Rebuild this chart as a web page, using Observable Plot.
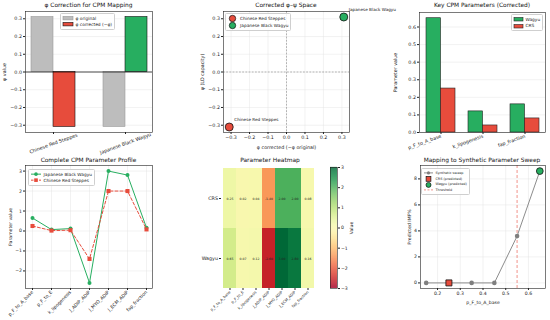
<!DOCTYPE html>
<html><head><meta charset="utf-8">
<script src="https://cdn.jsdelivr.net/npm/d3@7"></script>
<script src="https://cdn.jsdelivr.net/npm/@observablehq/plot@0.6"></script>
<style>
body{margin:0;background:#fff;font-family:"DejaVu Sans",sans-serif;}
#root{position:relative;width:550px;height:320px;overflow:hidden;background:#fff;}
#root svg{position:absolute;}
.title{position:absolute;font-size:5.9px;line-height:1;color:#111;white-space:nowrap;transform:translateX(-50%);}
.leg{position:absolute;border:0.5px solid #cfcfcf;border-radius:1.5px;background:rgba(255,255,255,0.85);padding:1px 2px;color:#222;white-space:nowrap;}
.leg svg{position:static !important;}
</style></head>
<body><div id="root"></div>
<script>
// ---------- data ----------
const breeds = ["Chinese Red Steppes", "Japanese Black Wagyu"];
const phiOriginal = [0.31, -0.31];
const phiCorrected = [-0.31, 0.31];
const psiCapacity = [-0.31, 0.31];
const breedColors = ["#e74c3c", "#27ae60"];

const keyParams = ["p_F_to_A_base", "k_lipogenesis", "fap_fraction"];
const keyWagyu = [0.65, 0.12, 0.16];
const keyCRS = [0.25, 0.04, 0.08];

const params = ["p_F_to_A_base", "p_F_to_E", "k_lipogenesis", "J_ADIP_ADIP", "J_MYO_ADIP", "J_ECM_ADIP", "fap_fraction"];
const wagyuValues = [0.65, 0.07, 0.12, -2.60, 3.00, 2.80, 0.16];
const crsValues = [0.25, 0.02, 0.04, -1.40, 2.00, 2.00, 0.08];
const heatRowsLabels = ["CRS", "Wagyu"];

const sweepX = [0.15, 0.25, 0.35, 0.45, 0.55, 0.65];
const sweepY = [0, 0, 0, 0, 3.6, 8.6];
const predLabels = ["CRS", "Wagyu"];
const predX = [0.25, 0.65];
const predY = [0.0, 8.6];
const threshold = [0.55];

const RED = "#e74c3c", GREEN = "#27ae60", GRAY = "#bdbdbd";

// ---------- helpers ----------
const root = document.getElementById("root");
const FONT = "DejaVu Sans";
const st = (fs) => ({fontFamily: FONT, fontSize: fs + "px", overflow: "visible", background: "transparent", color: "#222"});
const grid = {stroke: "#e3e3e3", strokeOpacity: 1, strokeWidth: 0.45};
const frame = () => Plot.frame({stroke: "#222", strokeWidth: 0.6});
function place(node, left, top) { node.style.left = left + "px"; node.style.top = top + "px"; root.appendChild(node); }
function title(text, cx, top) { const d = document.createElement("div"); d.className = "title"; d.textContent = text; d.style.left = cx + "px"; d.style.top = top + "px"; root.appendChild(d); }
function swatch(it, w, h) {
  const cy = h / 2;
  let s = `<svg width="${w}" height="${h}" style="display:block;overflow:visible">`;
  if (it.type === "rect") s += `<rect x="0" y="${cy - it.h / 2}" width="${w}" height="${it.h}" fill="${it.fill}" stroke="${it.stroke}" stroke-width="0.6"/>`;
  if (it.line) s += `<line x1="0" x2="${w}" y1="${cy}" y2="${cy}" stroke="${it.line}" stroke-width="${it.lw || 0.8}" ${it.dash ? `stroke-dasharray="${it.dash}"` : ""} stroke-opacity="${it.lo || 1}"/>`;
  if (it.marker === "circle") s += `<circle cx="${w / 2}" cy="${cy}" r="${it.r}" fill="${it.fill}" stroke="${it.stroke || "none"}" stroke-width="0.7"/>`;
  if (it.marker === "square") s += `<rect x="${w / 2 - it.r}" y="${cy - it.r}" width="${2 * it.r}" height="${2 * it.r}" fill="${it.fill}" stroke="${it.stroke || "none"}" stroke-width="0.7"/>`;
  return s + "</svg>";
}
function legend(left, top, items, o) {
  const d = document.createElement("div"); d.className = "leg";
  d.style.left = left + "px"; d.style.top = top + "px"; d.style.fontSize = o.fs + "px";
  for (const it of items) {
    const row = document.createElement("div");
    row.style.cssText = `display:flex;align-items:center;height:${o.rowH}px;`;
    row.innerHTML = swatch(it, o.sw, o.rowH) + `<span style="margin-left:${o.gap}px">${it.label}</span>`;
    d.appendChild(row);
  }
  root.appendChild(d);
}
const ax = {tickSize: 2, tickPadding: 1.5, labelArrow: false};

// ---------- Panel 1: phi correction ----------
{
  const W = 183, ml = 25, mr = 31, pi = 0.389, po = 0.076;
  const bw = (W - ml - mr) / (breeds.length - pi + 2 * po) * (1 - pi);
  const rows = breeds.map((b, i) => ({breed: b, original: phiOriginal[i], corrected: phiCorrected[i], color: breedColors[i]}));
  const yt = [-0.3, -0.2, -0.1, 0, 0.1, 0.2, 0.3];
  const svg = Plot.plot({
    width: W, height: 160, marginLeft: ml, marginRight: mr, marginTop: 11, marginBottom: 28,
    style: st(4.8),
    x: {domain: breeds, paddingInner: pi, paddingOuter: po},
    y: {domain: [-0.341, 0.341]},
    color: {type: "identity"},
    marks: [
      Plot.gridY(yt, grid),
      Plot.barY(rows, {x: "breed", y: "original", fill: GRAY, stroke: "#9a9a9a", strokeWidth: 0.6, insetRight: bw / 2}),
      Plot.barY(rows, {x: "breed", y: "corrected", fill: "color", stroke: "#111", strokeWidth: 0.6, insetLeft: bw / 2}),
      Plot.ruleY([0], {stroke: "#000", strokeWidth: 0.7}),
      Plot.axisY({...ax, ticks: yt, tickFormat: ".1f", label: "φ value", labelAnchor: "center", labelOffset: 23}),
      Plot.axisX({...ax, tickRotate: -20, textAnchor: "middle", tickPadding: 9, label: null}),
      frame()
    ]
  });
  place(svg, 0, 0);
  title("φ Correction for CPM Mapping", 88.5, 2.5);
  legend(60, 13, [
    {type: "rect", fill: GRAY, stroke: "#9a9a9a", h: 3.5, label: "φ original"},
    {type: "rect", fill: RED, stroke: "#111", h: 3.5, label: "φ corrected (−φ)"}
  ], {fs: 4.4, rowH: 6.3, sw: 10, gap: 2.5});
}

// ---------- Panel 2: phi-psi space ----------
{
  const rows = breeds.map((b, i) => ({breed: b, phi: phiCorrected[i], psi: psiCapacity[i], color: breedColors[i]}));
  const t = [-0.3, -0.2, -0.1, 0, 0.1, 0.2, 0.3];
  const svg = Plot.plot({
    width: 185, height: 160, marginLeft: 43, marginRight: 16, marginTop: 11, marginBottom: 28,
    style: st(4.8),
    x: {domain: [-0.341, 0.341]},
    y: {domain: [-0.341, 0.341]},
    color: {type: "identity"},
    marks: [
      Plot.gridX(t, grid), Plot.gridY(t, grid),
      Plot.ruleX([0], {stroke: "#888", strokeWidth: 0.6, strokeDasharray: "1.8,1.4"}),
      Plot.ruleY([0], {stroke: "#888", strokeWidth: 0.6, strokeDasharray: "1.8,1.4"}),
      Plot.dot(rows, {x: "phi", y: "psi", r: 4, fill: "color", stroke: "#111", strokeWidth: 0.8}),
      Plot.text(rows, {x: "phi", y: "psi", text: "breed", textAnchor: "start", dx: 5, dy: -7, fontSize: 4.2, fill: "#222"}),
      Plot.axisX({...ax, ticks: t, tickFormat: ".1f", label: "φ corrected (−φ original)", labelAnchor: "center", labelOffset: 16}),
      Plot.axisY({...ax, ticks: t, tickFormat: ".1f", label: "ψ (LD capacity)", labelAnchor: "center", labelOffset: 23}),
      frame()
    ]
  });
  place(svg, 180, 0);
  title("Corrected φ–ψ Space", 286, 2.5);
  legend(225, 13, [
    {marker: "circle", fill: RED, stroke: "#111", r: 3.2, label: "Chinese Red Steppes"},
    {marker: "circle", fill: GREEN, stroke: "#111", r: 3.2, label: "Japanese Black Wagyu"}
  ], {fs: 4.3, rowH: 7, sw: 9, gap: 3});
}

// ---------- Panel 3: key parameters ----------
{
  const W = 185, ml = 54, mr = 5, pi = 0.31, po = 0.155;
  const bw = (W - ml - mr) / (keyParams.length - pi + 2 * po) * (1 - pi);
  const rows = keyParams.map((p, i) => ({param: p, wagyu: keyWagyu[i], crs: keyCRS[i]}));
  const yt = [0, 0.1, 0.2, 0.3, 0.4, 0.5, 0.6];
  const svg = Plot.plot({
    width: W, height: 160, marginLeft: ml, marginRight: mr, marginTop: 12, marginBottom: 28,
    style: st(4.8),
    x: {domain: keyParams, paddingInner: pi, paddingOuter: po},
    y: {domain: [0, 0.6825]},
    marks: [
      Plot.gridY(yt, grid),
      Plot.barY(rows, {x: "param", y: "wagyu", fill: GREEN, stroke: "#222", strokeWidth: 0.6, insetRight: bw / 2}),
      Plot.barY(rows, {x: "param", y: "crs", fill: RED, stroke: "#222", strokeWidth: 0.6, insetLeft: bw / 2}),
      Plot.axisY({...ax, ticks: yt, tickFormat: ".1f", label: "Parameter value", labelAnchor: "center", labelOffset: 26}),
      Plot.axisX({...ax, tickRotate: -20, label: null}),
      frame()
    ]
  });
  place(svg, 365, 0);
  title("Key CPM Parameters (Corrected)", 482, 2.5);
  legend(511, 14, [
    {type: "rect", fill: GREEN, stroke: "#222", h: 3.5, label: "Wagyu"},
    {type: "rect", fill: RED, stroke: "#222", h: 3.5, label: "CRS"}
  ], {fs: 4.3, rowH: 6.5, sw: 9, gap: 2.5});
}

// ---------- Panel 4: complete profile ----------
{
  const wag = params.map((p, i) => ({param: p, value: wagyuValues[i]}));
  const crs = params.map((p, i) => ({param: p, value: crsValues[i]}));
  const yt = [-2, -1, 0, 1, 2, 3];
  const svg = Plot.plot({
    width: 183, height: 165, marginLeft: 25, marginRight: 31, marginTop: 10, marginBottom: 32,
    style: st(4.6),
    x: {type: "point", domain: params, padding: 0.3},
    y: {domain: [-2.88, 3.28]},
    marks: [
      Plot.gridX(params, grid), Plot.gridY(yt, grid),
      Plot.line(wag, {x: "param", y: "value", stroke: GREEN, strokeWidth: 1}),
      Plot.dot(wag, {x: "param", y: "value", r: 2, fill: GREEN}),
      Plot.line(crs, {x: "param", y: "value", stroke: RED, strokeWidth: 1, strokeDasharray: "3,2"}),
      Plot.dot(crs, {x: "param", y: "value", r: 2.3, symbol: "square", fill: RED}),
      Plot.axisY({...ax, ticks: yt, tickFormat: "d", label: "Parameter value", labelAnchor: "center", labelOffset: 17}),
      Plot.axisX({...ax, tickRotate: -45, tickPadding: 1, label: null}),
      frame()
    ]
  });
  place(svg, 0, 155);
  title("Complete CPM Parameter Profile", 88.5, 157.5);
  legend(28, 169, [
    {line: GREEN, lw: 1, marker: "circle", fill: GREEN, r: 1.8, label: "Japanese Black Wagyu"},
    {line: RED, lw: 1, dash: "2.5,1.5", marker: "square", fill: RED, r: 1.8, label: "Chinese Red Steppes"}
  ], {fs: 4.3, rowH: 6.3, sw: 10, gap: 2.5});
}

// ---------- Panel 5: heatmap ----------
{
  const cells = [
    ...params.map((p, i) => ({param: p, row: heatRowsLabels[0], value: crsValues[i]})),
    ...params.map((p, i) => ({param: p, row: heatRowsLabels[1], value: wagyuValues[i]}))
  ];
  const color = {type: "linear", scheme: "RdYlGn", domain: [-3, 3]};
  const svg = Plot.plot({
    width: 140, height: 165, marginLeft: 41, marginRight: 5, marginTop: 12, marginBottom: 32,
    style: st(4.6),
    x: {domain: params, padding: 0},
    y: {domain: heatRowsLabels, padding: 0},
    color,
    marks: [
      Plot.cell(cells, {x: "param", y: "row", fill: "value"}),
      Plot.text(cells, {x: "param", y: "row", text: d => d.value.toFixed(2), fontSize: 3.1, fill: "#222"}),
      Plot.axisY({...ax, fontSize: 4.8, label: null}),
      Plot.axisX({...ax, tickRotate: -45, tickPadding: 1, fontSize: 3.7, label: null})
    ]
  });
  place(svg, 180, 155);
  title("Parameter Heatmap", 270, 157.5);

  const steps = d3.range(-3, 3, 0.025);
  const cb = Plot.plot({
    width: 45, height: 165, marginLeft: 10, marginRight: 28, marginTop: 12, marginBottom: 32,
    style: st(4.6),
    y: {domain: [-3, 3]},
    color,
    marks: [
      Plot.barY(steps, {y1: d => d, y2: d => d + 0.03, fill: d => d}),
      Plot.axisY({...ax, anchor: "right", ticks: [-3, -2, -1, 0, 1, 2, 3], tickFormat: "d", label: "Value", labelAnchor: "center", labelOffset: 15}),
      frame()
    ]
  });
  place(cb, 320, 155);
}

// ---------- Panel 6: synthetic sweep ----------
{
  const sweep = sweepX.map((x, i) => ({x, y: sweepY[i]}));
  const pred = predLabels.map((l, i) => ({label: l, x: predX[i], y: predY[i]}));
  const xt = [0.2, 0.3, 0.4, 0.5, 0.6], yt = [0, 2, 4, 6, 8];
  const svg = Plot.plot({
    width: 183, height: 165, marginLeft: 55, marginRight: 3, marginTop: 10, marginBottom: 32,
    style: st(4.6),
    x: {domain: [0.125, 0.675]},
    y: {domain: [-0.43, 9.03]},
    marks: [
      Plot.gridX(xt, grid), Plot.gridY(yt, grid),
      Plot.ruleX(threshold, {stroke: RED, strokeOpacity: 0.75, strokeWidth: 0.8, strokeDasharray: "3,2"}),
      Plot.line(sweep, {x: "x", y: "y", stroke: "#7f7f7f", strokeWidth: 0.9}),
      Plot.dot(sweep, {x: "x", y: "y", r: 2.3, fill: "#7f7f7f"}),
      Plot.dot(pred.filter(d => d.label === "CRS"), {x: "x", y: "y", symbol: "square", r: 3.4, fill: RED, stroke: "#111", strokeWidth: 0.8}),
      Plot.dot(pred.filter(d => d.label === "Wagyu"), {x: "x", y: "y", r: 3.4, fill: GREEN, stroke: "#111", strokeWidth: 0.8}),
      Plot.axisX({...ax, ticks: xt, tickFormat: ".1f", label: "p_F_to_A_base", labelAnchor: "center", labelOffset: 15}),
      Plot.axisY({...ax, ticks: yt, tickFormat: "d", label: "Predicted IMF%", labelAnchor: "center", labelOffset: 13}),
      frame()
    ]
  });
  place(svg, 365, 155);
  title("Mapping to Synthetic Parameter Sweep", 482, 157.5);
  legend(421, 168, [
    {line: "#7f7f7f", lw: 0.9, marker: "circle", fill: "#7f7f7f", r: 1.6, label: "Synthetic sweep"},
    {marker: "square", fill: RED, stroke: "#111", r: 2.4, label: "CRS (predicted)"},
    {marker: "circle", fill: GREEN, stroke: "#111", r: 2.5, label: "Wagyu (predicted)"},
    {line: RED, lw: 0.8, dash: "2,1.5", lo: 0.75, label: "Threshold"}
  ], {fs: 3.4, rowH: 5.8, sw: 9, gap: 2.5});
}
</script>
</body></html>
